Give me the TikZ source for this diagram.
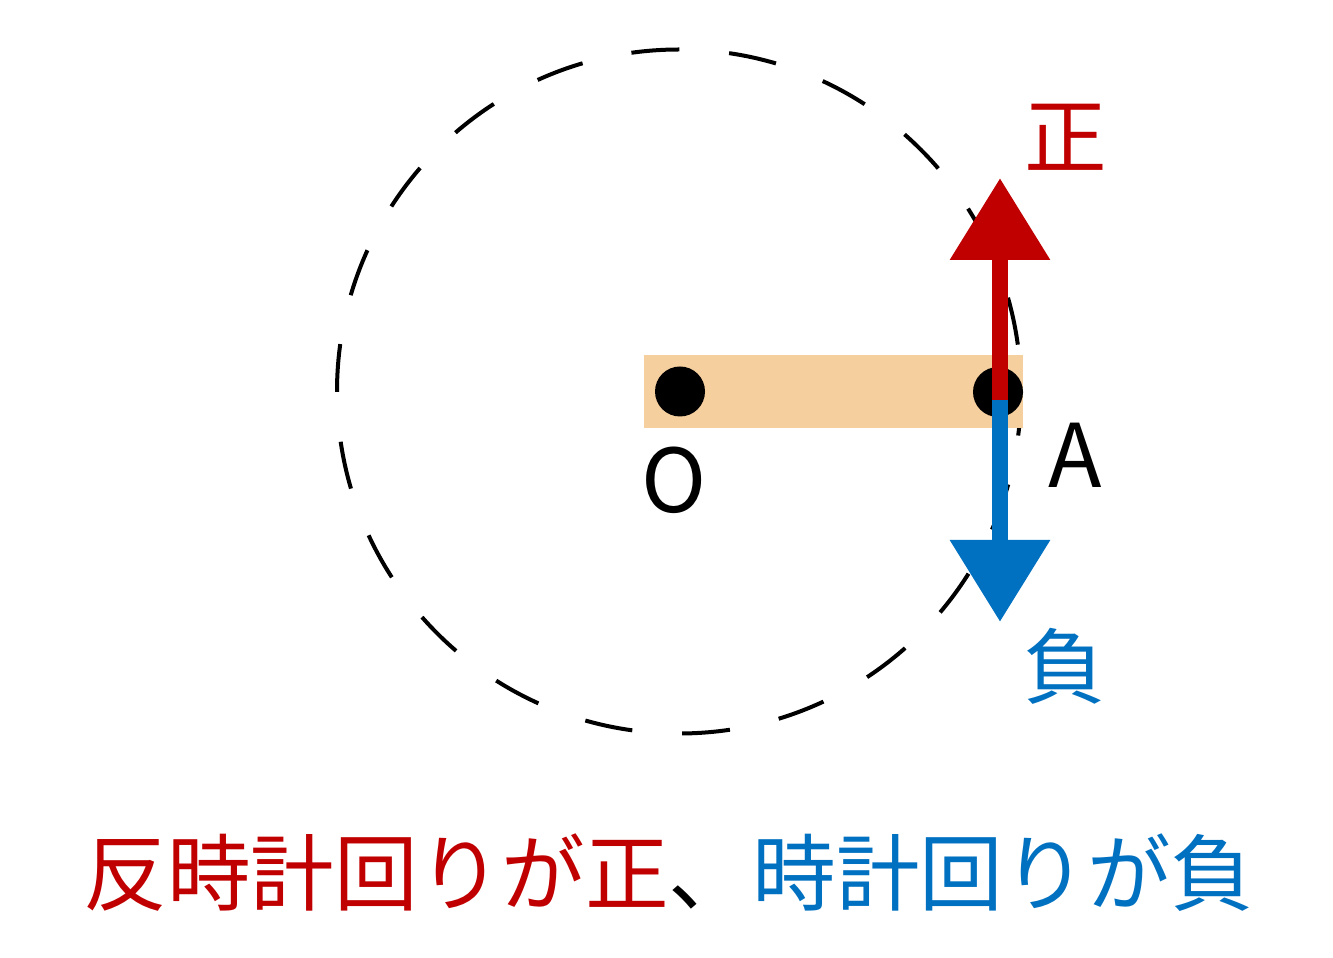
\documentclass[tikz,border=0pt]{standalone}
\usepackage{fontspec}
\setmainfont{Noto Sans CJK JP}
\usepackage{xcolor}
\usepackage{tikz}
\usetikzlibrary{arrows.meta}
\definecolor{seired}{HTML}{C00000}
\definecolor{fublue}{HTML}{0070C0}
\definecolor{barorange}{HTML}{F6CF9F}

\begin{document}
\begin{tikzpicture}[x=1cm,y=1cm,
    dot/.style={circle,fill=black,inner sep=0pt,minimum size=0.5cm},
    lbl/.style={inner sep=0pt,font=\fontsize{25}{25}\selectfont},
    kanji/.style={inner sep=0pt,font=\fontsize{23.5}{23.5}\selectfont},
    vec/.style={line width=0.167cm,-{Triangle[width=0.96cm,length=0.82cm]}}]
      \useasboundingbox (0,0) rectangle (13.33,9.58);
      % path of A
      \draw [line width=0.04cm,dash pattern=on 0.48cm off 0.50cm,dash phase=0.51cm] (6.79,5.665) circle (3.42);
      % rod
      \fill [barorange] (6.44,5.30) rectangle (10.23,6.03);
      \node [dot] (O) at (6.80,5.665) {};
      \node [dot] (A) at (9.98,5.66) {};
      \node [lbl] (Olabel) at (6.74,4.78) {O};
      \node [lbl] (Alabel) at (10.75,5.03) {A};
      % velocity directions
      \coordinate (base) at (10.00,5.58);
      \coordinate (uptip) at (10.00,7.80);
      \coordinate (downtip) at (10.00,3.36);
      \draw [vec,seired] (base) -- (uptip);
      \draw [vec,fublue] (base) -- (downtip);
      \node [kanji,text=seired] (sei) at (10.66,8.21) {正};
      \node [kanji,text=fublue] (fu) at (10.65,2.92) {負};
      \node [kanji,font=\fontsize{23.8}{23.8}\selectfont] (caption) at (6.69,0.85) {\textcolor{seired}{反時計回りが正}、\textcolor{fublue}{時計回りが負}};
    \end{tikzpicture}
\end{document}
